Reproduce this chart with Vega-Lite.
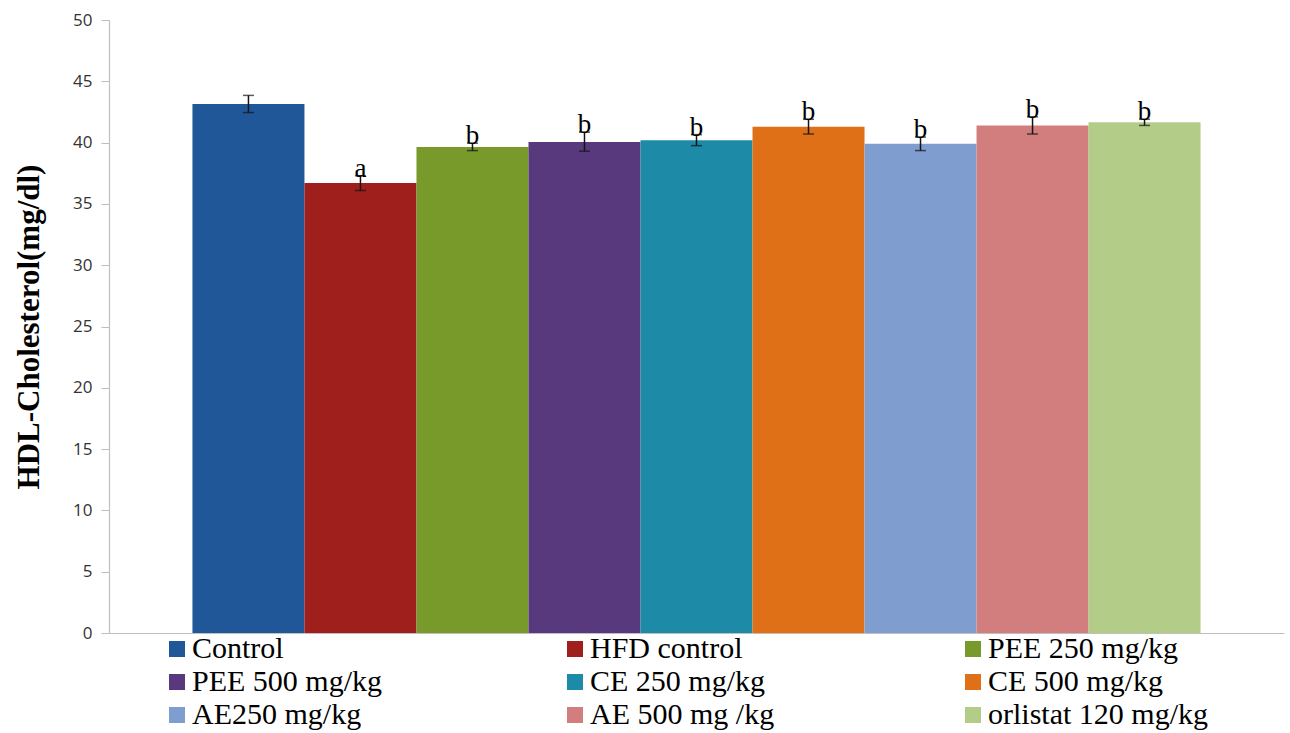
{
  "$schema": "https://vega.github.io/schema/vega-lite/v6.json",
  "autosize": {"type": "none"},
  "width": 1175,
  "height": 613,
  "padding": {"left": 109, "top": 20, "right": 6, "bottom": 100},
  "background": "white",
  "config": {"view": {"stroke": null}},
  "data": {
    "values": [
      {"group": "Control", "mean": 43.15, "lo": 42.45, "hi": 43.85, "letter": ""},
      {"group": "HFD control", "mean": 36.7, "lo": 36.1, "hi": 37.3, "letter": "a"},
      {"group": "PEE 250 mg/kg", "mean": 39.65, "lo": 39.35, "hi": 39.95, "letter": "b"},
      {"group": "PEE 500 mg/kg", "mean": 40.05, "lo": 39.3, "hi": 40.85, "letter": "b"},
      {"group": "CE 250 mg/kg", "mean": 40.2, "lo": 39.75, "hi": 40.65, "letter": "b"},
      {"group": "CE 500 mg/kg", "mean": 41.3, "lo": 40.7, "hi": 41.9, "letter": "b"},
      {"group": "AE250 mg/kg", "mean": 39.9, "lo": 39.35, "hi": 40.45, "letter": "b"},
      {"group": "AE 500 mg /kg", "mean": 41.4, "lo": 40.7, "hi": 42.1, "letter": "b"},
      {"group": "orlistat 120 mg/kg", "mean": 41.65, "lo": 41.4, "hi": 41.9, "letter": "b"}
    ]
  },
  "encoding": {
    "x": {
      "field": "group",
      "type": "nominal",
      "sort": null,
      "scale": {"paddingInner": 0, "paddingOuter": 0.745},
      "axis": {"title": null, "labels": false, "ticks": false, "domainColor": "#bfbfbf", "domainWidth": 1.2}
    }
  },
  "layer": [
    {
      "mark": {"type": "bar"},
      "encoding": {
        "y": {
          "field": "mean",
          "type": "quantitative",
          "title": "HDL-Cholesterol(mg/dl)",
          "scale": {"domain": [0, 50], "nice": false},
          "axis": {
            "titleFont": "Liberation Serif",
            "titleFontSize": 31,
            "titleFontWeight": "bold",
            "titleColor": "black",
            "titlePadding": 27,
            "values": [0, 5, 10, 15, 20, 25, 30, 35, 40, 45, 50],
            "grid": false,
            "labelFont": "Open Sans",
            "labelFontSize": 17,
            "labelColor": "#333333",
            "labelPadding": 9,
            "domainColor": "#bfbfbf",
            "domainWidth": 1.2,
            "tickColor": "#bfbfbf",
            "tickSize": 8
          }
        },
        "color": {
          "field": "group",
          "type": "nominal",
          "sort": null,
          "scale": {
            "domain": ["Control", "HFD control", "PEE 250 mg/kg", "PEE 500 mg/kg", "CE 250 mg/kg", "CE 500 mg/kg", "AE250 mg/kg", "AE 500 mg /kg", "orlistat 120 mg/kg"],
            "range": ["#205799", "#9e1f1c", "#779a2a", "#58397d", "#1d8aa8", "#e07018", "#7f9ecf", "#d37e7e", "#b3cd88"]
          },
          "legend": {
            "title": null,
            "orient": "none",
            "legendX": 53,
            "legendY": 614,
            "columns": 3,
            "direction": "horizontal",
            "gridAlign": "all",
            "columnPadding": 148,
            "rowPadding": 3,
            "symbolType": "square",
            "symbolSize": 256,
            "symbolStrokeWidth": 0,
            "symbolOpacity": 1,
            "labelFont": "Liberation Serif",
            "labelFontSize": 30,
            "labelColor": "black",
            "labelLimit": 400,
            "labelOffset": 0
          }
        }
      }
    },
    {
      "mark": {"type": "errorbar", "ticks": {"size": 11, "color": "#151515", "thickness": 1.5}, "rule": {"color": "#151515", "strokeWidth": 1.5}},
      "encoding": {
        "y": {"field": "lo", "type": "quantitative", "title": "HDL-Cholesterol(mg/dl)"},
        "y2": {"field": "hi"}
      }
    },
    {
      "mark": {"type": "text", "font": "Liberation Serif", "fontSize": 27, "color": "black", "baseline": "alphabetic", "dy": 1},
      "encoding": {
        "y": {"field": "hi", "type": "quantitative", "title": "HDL-Cholesterol(mg/dl)"},
        "text": {"field": "letter"}
      }
    }
  ]
}
